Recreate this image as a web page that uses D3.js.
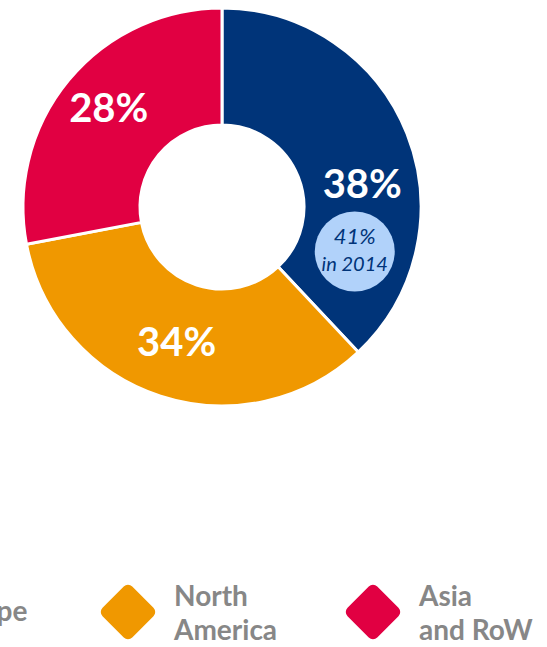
<!DOCTYPE html>
<html>
<head>
<meta charset="utf-8">
<script src="https://cdn.jsdelivr.net/npm/d3@7"></script>
<style>
  body { margin: 0; background: #fff; }
  svg { display: block; font-family: Lato, "Noto Sans", sans-serif; }
</style>
</head>
<body>
<svg id="chart"></svg>
<script>
// regions and their share of sales
const regions = ['Europe', 'North America', 'Asia and RoW'];
const shares = [38, 34, 28];
const legendLines = [['Europe'], ['North', 'America'], ['Asia', 'and RoW']];
const colors = ['#003479', '#f09800', '#e10042'];
// note for the first slice
const noteValue = '41%';
const noteYear = 'in 2014';

const width = 547, height = 647;
const cx = 222, cy = 207;
const outerR = 199, innerR = 82;

const svg = d3.select('#chart')
    .attr('width', width)
    .attr('height', height);

const pie = d3.pie().sort(null).value(d => d)(shares);

const arc = d3.arc().innerRadius(innerR).outerRadius(outerR);
const labelArc = d3.arc().innerRadius(147).outerRadius(147);

const g = svg.append('g')
    .attr('transform', `translate(${cx}, ${cy})`);

g.selectAll('path.slice')
    .data(pie)
    .join('path')
    .attr('class', 'slice')
    .attr('d', arc)
    .attr('fill', (d, i) => colors[i])
    .attr('stroke', '#fff')
    .attr('stroke-width', 3);

// first slice label is pushed down a bit to make room for the note bubble
function labelPos(d, i) {
    if (i === 0) {
        const a = (d.startAngle + d.endAngle) / 2 + 0.22;
        const p = [Math.sin(a) * 142, -Math.cos(a) * 142];
        return [p[0], p[1] + 4];
    }
    return labelArc.centroid(d);
}

g.selectAll('text.pct')
    .data(pie)
    .join('text')
    .attr('class', 'pct')
    .attr('x', (d, i) => labelPos(d, i)[0])
    .attr('y', (d, i) => labelPos(d, i)[1] + 9)
    .attr('text-anchor', 'middle')
    .attr('fill', '#fff')
    .style('font-size', '40px')
    .style('font-weight', 'bold')
    .text(d => d.data + '%');

// note bubble
const first = pie[0];
const na = (first.startAngle + first.endAngle) / 2 + 0.7;
const nx = Math.sin(na) * 140, ny = -Math.cos(na) * 140;
g.append('circle')
    .attr('cx', nx)
    .attr('cy', ny)
    .attr('r', 40)
    .attr('fill', '#b1d2fa');
g.append('text')
    .attr('x', nx)
    .attr('y', ny - 7)
    .attr('text-anchor', 'middle')
    .attr('fill', '#003479')
    .style('font-size', '22px')
    .style('font-style', 'italic')
    .text(noteValue);
g.append('text')
    .attr('x', nx)
    .attr('y', ny + 20)
    .attr('text-anchor', 'middle')
    .attr('fill', '#003479')
    .style('font-size', '20px')
    .style('font-style', 'italic')
    .text(noteYear);

// legend (first item runs off the left edge, as in the source)
const legendX = d3.scaleOrdinal()
    .domain(regions)
    .range([-107, 128, 373]);
const legendY = 612;

const items = svg.selectAll('g.legend')
    .data(regions)
    .join('g')
    .attr('class', 'legend')
    .attr('transform', d => `translate(${legendX(d)}, ${legendY})`);

items.append('rect')
    .attr('x', -21)
    .attr('y', -21)
    .attr('width', 42)
    .attr('height', 42)
    .attr('rx', 6)
    .attr('transform', 'rotate(45)')
    .attr('fill', (d, i) => colors[i]);

items.each(function (d, i) {
    const lines = legendLines[i];
    const t = d3.select(this).append('text')
        .attr('fill', '#878787')
        .style('font-size', '28px')
        .style('font-weight', 'bold');
    const y0 = lines.length === 1 ? 9 : -6;
    lines.forEach((ln, j) => {
        t.append('tspan')
            .attr('x', 46)
            .attr('y', y0 + j * 34)
            .text(ln);
    });
});
</script>
</body>
</html>
